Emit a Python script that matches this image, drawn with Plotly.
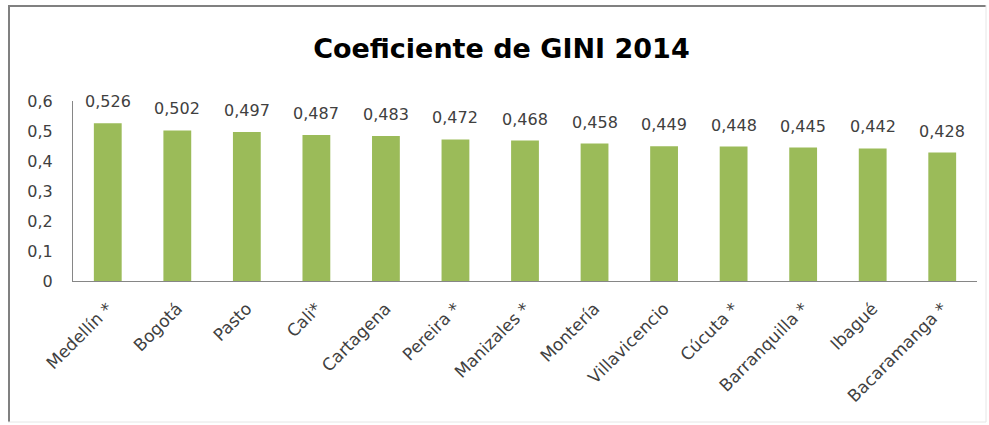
import plotly.graph_objects as go

cities = ["Medellín *", "Bogotá", "Pasto", "Cali*", "Cartagena", "Pereira *", "Manizales *",
          "Montería", "Villavicencio", "Cúcuta *", "Barranquilla *", "Ibagué", "Bacaramanga *"]
gini = [0.526, 0.502, 0.497, 0.487, 0.483, 0.472, 0.468, 0.458, 0.449, 0.448, 0.445, 0.442, 0.428]
ytick_vals = [0, 0.1, 0.2, 0.3, 0.4, 0.5, 0.6]
ytick_text = ["0", "0,1", "0,2", "0,3", "0,4", "0,5", "0,6"]

W, H = 989, 425
L, R, T, B = 73, 977, 101, 281

def px(x):
    return (x - L) / (R - L)

def py(y):
    return (B - y) / (B - T)

FONT = "'DejaVu Sans', Verdana, sans-serif"

fig = go.Figure(go.Bar(
    x=cities, y=gini,
    marker=dict(color="#9BBB59", line=dict(width=0)),
    cliponaxis=False,
    hoverinfo="x+y",
))

annotations = [
    dict(x=c, y=v, xref="x", yref="y", text=f"{v:.3f}".replace(".", ","),
         showarrow=False, yanchor="bottom", yshift=10,
         font=dict(size=16, color="#404040", family=FONT))
    for c, v in zip(cities, gini)
]

fig.update_layout(
    width=W, height=H,
    margin=dict(l=L, r=W - R, t=T, b=H - B, autoexpand=False),
    paper_bgcolor="white", plot_bgcolor="white",
    separators=",.",
    bargap=0.6,
    showlegend=False,
    title=dict(text="<b>Coeficiente de GINI 2014</b>", x=0.507, xanchor="center",
               y=1 - 49 / H, yanchor="middle",
               font=dict(size=27, color="#000000", family=FONT)),
    font=dict(family=FONT, color="#404040"),
    xaxis=dict(tickangle=-45, tickfont=dict(size=17, color="#404040"),
               showline=True, linecolor="#868686", linewidth=1,
               ticks="", showgrid=False, automargin=False, ticklabelstandoff=10),
    yaxis=dict(range=[0, 0.6], tickvals=ytick_vals, ticktext=ytick_text,
               tickfont=dict(size=16, color="#404040"),
               showline=True, linecolor="#868686", linewidth=1,
               ticks="", showgrid=False, zeroline=False, ticklabelstandoff=16,
               automargin=False),
    annotations=annotations,
    shapes=[
        dict(type="line", xref="paper", yref="paper", x0=px(9), x1=px(9), y0=py(5), y1=py(422),
             line=dict(color="#808080", width=2)),
        dict(type="line", xref="paper", yref="paper", x0=px(8), x1=px(986), y0=py(6), y1=py(6),
             line=dict(color="#808080", width=2)),
        dict(type="line", xref="paper", yref="paper", x0=px(986), x1=px(986), y0=py(5), y1=py(422),
             line=dict(color="#e6e6e6", width=1)),
        dict(type="line", xref="paper", yref="paper", x0=px(8), x1=px(986), y0=py(422), y1=py(422),
             line=dict(color="#e6e6e6", width=1)),
    ],
)

fig.write_html("out.html", config={"displayModeBar": False},
               post_script="document.body.style.margin='0';")
